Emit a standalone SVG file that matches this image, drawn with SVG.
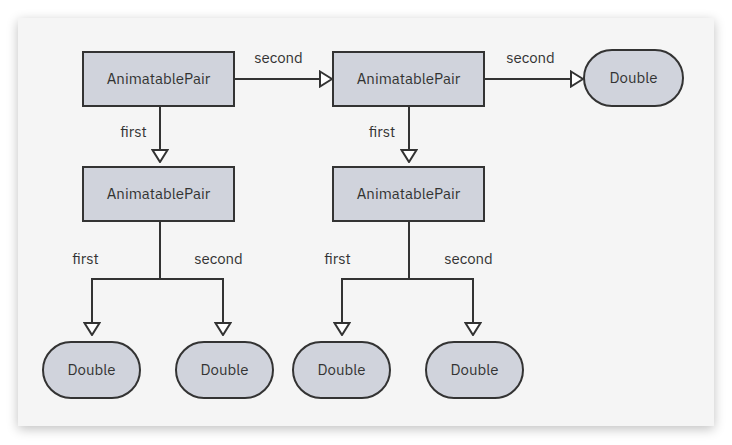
<svg xmlns="http://www.w3.org/2000/svg" width="732" height="445" viewBox="0 0 732 445">
  <defs>
    <filter id="sh" x="-10%" y="-10%" width="120%" height="125%">
      <feGaussianBlur in="SourceAlpha" stdDeviation="6"/>
      <feOffset dx="0" dy="3"/>
      <feComponentTransfer><feFuncA type="linear" slope="0.25"/></feComponentTransfer>
      <feMerge><feMergeNode/><feMergeNode in="SourceGraphic"/></feMerge>
    </filter>
    <marker id="tri" viewBox="0 0 14 18" refX="13" refY="9" markerWidth="14" markerHeight="18" markerUnits="userSpaceOnUse" orient="auto">
      <path d="M1,1.5 L13,9 L1,16.5 Z" fill="#ffffff" stroke="#333333" stroke-width="2" stroke-linejoin="miter"/>
    </marker>
  </defs>
  <style>
    .box { fill: #d0d3dc; stroke: #333333; stroke-width: 2; }
    .t { font-family: "IBM Plex Sans", "Noto Sans", "Open Sans", sans-serif; font-size: 15px; fill: #333333; text-anchor: middle; }
    .lbl { font-family: "IBM Plex Sans", "Noto Sans", "Open Sans", sans-serif; font-size: 15px; fill: #333333; text-anchor: middle; }
    .c { fill: none; stroke: #333333; stroke-width: 2; marker-end: url(#tri); }
  </style>
  <rect x="0" y="0" width="732" height="445" fill="#ffffff"/>
  <rect x="18" y="18" width="696" height="408" fill="#f5f5f5" filter="url(#sh)"/>

  <g id="connectors">
    <path class="c" d="M234,79 H332"/>
    <path class="c" d="M484,79 H583"/>
    <path class="c" d="M160,106 V162"/>
    <path class="c" d="M409,106 V162"/>
    <path class="c" d="M160,221 V279 H92 V335"/>
    <path class="c" d="M160,279 H223 V335"/>
    <path class="c" d="M409,221 V279 H342 V335"/>
    <path class="c" d="M409,279 H473 V335"/>
    <text class="lbl" x="278.5" y="63">second</text>
    <text class="lbl" x="530.5" y="63">second</text>
    <text class="lbl" x="133.5" y="137">first</text>
    <text class="lbl" x="382" y="137">first</text>
    <text class="lbl" x="85.5" y="264">first</text>
    <text class="lbl" x="218.5" y="264">second</text>
    <text class="lbl" x="337.5" y="264">first</text>
    <text class="lbl" x="468.5" y="264">second</text>
  </g>

  <g id="pair1">
    <rect class="box" x="83" y="52" width="151" height="54"/>
    <text class="t" x="158.5" y="84">AnimatablePair</text>
  </g>
  <g id="pair2">
    <rect class="box" x="333" y="52" width="151" height="54"/>
    <text class="t" x="408.5" y="84">AnimatablePair</text>
  </g>
  <g id="double1">
    <rect class="box" x="584" y="50" width="99" height="56" rx="28" ry="28"/>
    <text class="t" x="633.5" y="83">Double</text>
  </g>
  <g id="pair3">
    <rect class="box" x="83" y="167" width="151" height="54"/>
    <text class="t" x="158.5" y="199">AnimatablePair</text>
  </g>
  <g id="pair4">
    <rect class="box" x="333" y="167" width="151" height="54"/>
    <text class="t" x="408.5" y="199">AnimatablePair</text>
  </g>
  <g id="double2">
    <rect class="box" x="43" y="342" width="97" height="56" rx="28" ry="28"/>
    <text class="t" x="91.5" y="375">Double</text>
  </g>
  <g id="double3">
    <rect class="box" x="176" y="342" width="97" height="56" rx="28" ry="28"/>
    <text class="t" x="224.5" y="375">Double</text>
  </g>
  <g id="double4">
    <rect class="box" x="293" y="342" width="97" height="56" rx="28" ry="28"/>
    <text class="t" x="341.5" y="375">Double</text>
  </g>
  <g id="double5">
    <rect class="box" x="426" y="342" width="97" height="56" rx="28" ry="28"/>
    <text class="t" x="474.5" y="375">Double</text>
  </g>
</svg>
